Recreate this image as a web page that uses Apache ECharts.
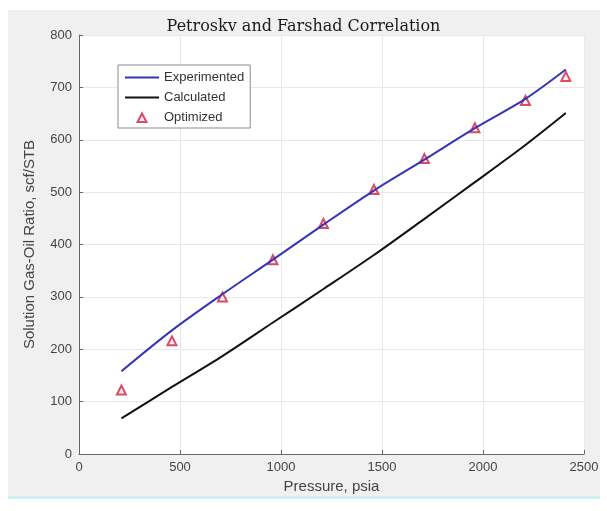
<!DOCTYPE html>
<html>
<head>
<meta charset="utf-8">
<script src="https://cdn.jsdelivr.net/npm/echarts@6/dist/echarts.min.js"></script>
<style>html,body{margin:0;padding:0;background:#fff;}#c{width:607px;height:511px;}</style>
</head>
<body>
<div id="c"></div>
<script>
const pressure = [210, 460, 710, 960, 1210, 1460, 1710, 1960, 2210, 2410];
const experimented = [158, 236, 305, 371, 438, 503, 562, 622, 678, 734];
const calculated = [68, 128, 187, 251, 315, 380, 449, 519, 590, 651];
const optimized = [122, 216, 300, 371, 440, 505, 564, 623, 675, 721];
const xTicks = [0, 500, 1000, 1500, 2000, 2500];
const yTicks = [0, 100, 200, 300, 400, 500, 600, 700, 800];

const pair = (xs, ys) => xs.map((x, i) => [x, ys[i]]);
const hidden = { color: 'rgba(0,0,0,0)', borderColor: 'rgba(0,0,0,0)', borderWidth: 0 };
const chart = echarts.init(document.getElementById('c'));
chart.setOption({
  backgroundColor: '#ffffff',
  animation: false,
  graphic: [
    { type: 'rect', left: 8, top: 10, shape: { width: 592, height: 487 }, style: { fill: '#f0f0f0' }, z: -10 },
    { type: 'rect', left: 8, top: 496, shape: { width: 592, height: 3 }, style: { fill: '#d2eef4' }, z: -9 }
  ],
  title: {
    text: 'Petroskv and Farshad Correlation',
    left: 'center',
    top: 19,
    padding: 0,
    textStyle: { fontFamily: 'DejaVu Serif', fontSize: 16, fontWeight: 'normal', color: '#1a1a1a' }
  },
  grid: { left: 79, right: 23, top: 35, bottom: 57, show: true, backgroundColor: '#ffffff', borderWidth: 0 },
  legend: {
    orient: 'vertical',
    left: 118, top: 65,
    padding: [6, 6, 4, 6],
    itemGap: 7,
    itemWidth: 34, itemHeight: 10,
    backgroundColor: '#ffffff',
    borderColor: '#8a8a8a', borderWidth: 1,
    textStyle: { fontFamily: 'Liberation Sans', fontSize: 13, color: '#333' },
    data: [
      { name: 'Experimented', itemStyle: hidden },
      { name: 'Calculated', itemStyle: hidden },
      { name: 'Optimized', icon: 'path://M0,0 M34,10 M12.5,9.5 L17,1 L21.5,9.5 Z' }
    ]
  },
  xAxis: {
    type: 'value', min: 0, max: 2500, interval: 500,
    name: 'Pressure, psia', nameLocation: 'middle', nameGap: 23,
    nameTextStyle: { fontFamily: 'Liberation Sans', fontSize: 15, color: '#444' },
    axisLine: { lineStyle: { color: '#666', width: 1 } },
    axisTick: { inside: true, length: 4, lineStyle: { color: '#666' } },
    axisLabel: { margin: 7, fontFamily: 'Liberation Sans', fontSize: 13, color: '#444',
      formatter: v => xTicks.includes(v) ? String(v) : '' },
    splitLine: { show: true, lineStyle: { color: '#e8e8e8' } }
  },
  yAxis: {
    type: 'value', min: 0, max: 800, interval: 100,
    name: 'Solution Gas-Oil Ratio, scf/STB', nameLocation: 'middle', nameGap: 42,
    nameTextStyle: { fontFamily: 'Liberation Sans', fontSize: 15, color: '#444' },
    axisLine: { show: true, lineStyle: { color: '#666', width: 1 } },
    axisTick: { show: true, inside: true, length: 4, lineStyle: { color: '#666' } },
    axisLabel: { margin: 7, fontFamily: 'Liberation Sans', fontSize: 13, color: '#444',
      formatter: v => yTicks.includes(v) ? String(v) : '' },
    splitLine: { show: true, lineStyle: { color: '#e8e8e8' } }
  },
  series: [
    { name: 'Experimented', type: 'line', data: pair(pressure, experimented), smooth: 0.3,
      symbol: 'none', lineStyle: { color: '#3535b8', width: 2 }, itemStyle: { color: '#3535b8' } },
    { name: 'Calculated', type: 'line', data: pair(pressure, calculated), smooth: 0.3,
      symbol: 'none', lineStyle: { color: '#111', width: 2 }, itemStyle: { color: '#111' } },
    { name: 'Optimized', type: 'scatter', data: pair(pressure, optimized),
      symbol: 'triangle', symbolSize: 9,
      itemStyle: { color: 'rgba(255,230,235,0.8)', borderColor: '#d02040', borderWidth: 2 } }
  ]
});
</script>
</body>
</html>
